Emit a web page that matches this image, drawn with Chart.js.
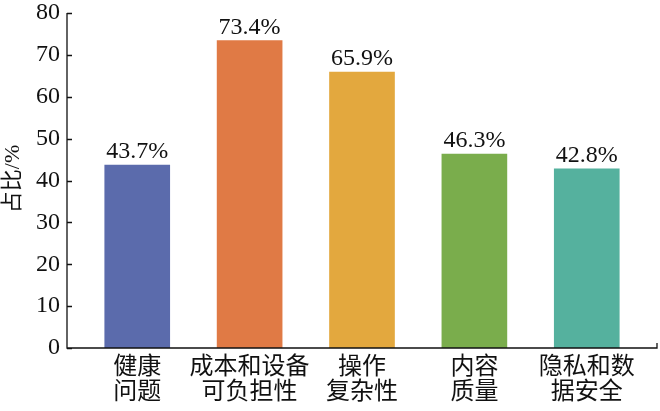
<!DOCTYPE html>
<html><head><meta charset="utf-8">
<script src="https://cdn.jsdelivr.net/npm/chart.js@4/dist/chart.umd.min.js"></script>
<style>html,body{margin:0;padding:0;background:#fff}#w{width:660px;height:411px}</style>
</head><body><div id="w"><canvas id="c" width="660" height="411"></canvas></div>
<script>
const categories = [["健康","问题"],["成本和设备","可负担性"],["操作","复杂性"],["内容","质量"],["隐私和数","据安全"]];
const values = [43.7, 73.4, 65.9, 46.3, 42.8];
const valueLabels = ["43.7%","73.4%","65.9%","46.3%","42.8%"];
const colors = ["#5B6BAC","#E07A45","#E3A83E","#7AAD4C","#55B19E"];
const yTicks = [0,10,20,30,40,50,60,70,80];
const yTitle = "占比/%";

const serif = "Liberation Serif";
const cjk = "Liberation Serif, Noto Sans CJK SC";

const deco = {
  id:'deco',
  afterDraw(chart){
    const ctx = chart.ctx, x = chart.scales.x, y = chart.scales.y;
    const L = x.left, R = x.right, B = y.bottom, T = y.top;
    ctx.save();
    ctx.strokeStyle = '#111'; ctx.lineWidth = 1.3;
    ctx.beginPath();
    ctx.moveTo(L, T); ctx.lineTo(L, B); ctx.lineTo(R, B); ctx.lineTo(R, B-5);
    yTicks.forEach(v=>{ const p = Math.round(y.getPixelForValue(v))+0.5; ctx.moveTo(L,p); ctx.lineTo(L+5,p); });
    ctx.stroke();
    ctx.fillStyle = '#111'; ctx.font = "24px " + serif; ctx.textAlign='center'; ctx.textBaseline='alphabetic';
    chart.getDatasetMeta(0).data.forEach((bar,i)=>{ ctx.fillText(valueLabels[i], bar.x, bar.y - 7); });
    ctx.translate(13, 179); ctx.rotate(-Math.PI/2);
    ctx.font = "22px " + cjk; ctx.textBaseline='middle';
    ctx.fillText(yTitle, 0, 0);
    ctx.restore();
  }
};

new Chart(document.getElementById('c'), {
  type:'bar',
  data:{ datasets:[{ data: values.map((v,i)=>({x:i,y:v})), backgroundColor: colors, borderWidth:0, barThickness:65 }] },
  options:{
    responsive:false, animation:false,
    layout:{ padding:{ top:13, right:3, left:0, bottom:0 } },
    plugins:{ legend:{display:false}, tooltip:{enabled:false} },
    scales:{
      x:{ type:'linear', min:-0.625, max:4.625, offset:false,
          afterBuildTicks(s){ s.ticks = categories.map((c,i)=>({value:i})); },
          afterFit(s){ s.height = 63; },
          grid:{ display:false }, border:{ display:false },
          ticks:{ autoSkip:false, maxRotation:0, padding:-1, color:'#111',
                  font:{ family:cjk, size:24, lineHeight:1.05 },
                  callback:(v)=>categories[v] } },
      y:{ min:0, max:80,
          afterBuildTicks(s){ s.ticks = yTicks.map(v=>({value:v})); },
          afterFit(s){ s.width = 67; },
          grid:{ display:false, drawTicks:false }, border:{ display:false },
          ticks:{ padding:7, color:'#111', font:{ family:serif, size:24, lineHeight:0.5 } } }
    }
  },
  plugins:[deco]
});
</script></body></html>
